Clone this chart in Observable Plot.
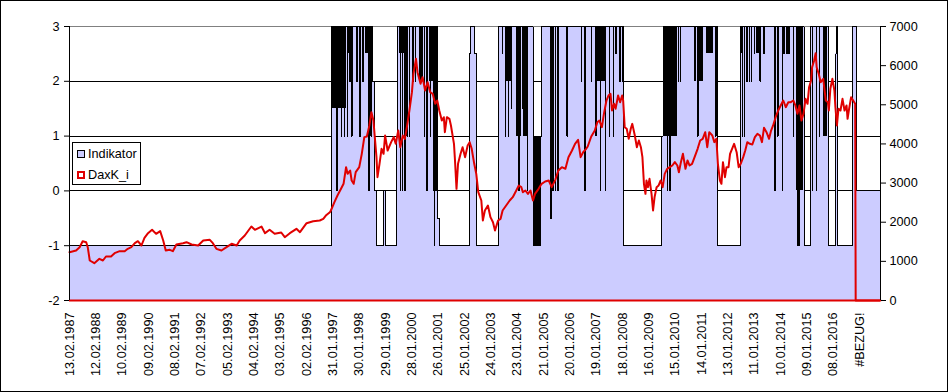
<!DOCTYPE html>
<html><head><meta charset="utf-8">
<script src="https://cdn.jsdelivr.net/npm/d3@7"></script>
<script src="https://cdn.jsdelivr.net/npm/@observablehq/plot@0.6"></script>
<style>
body{margin:0;background:#fff;}
#wrap{position:relative;width:948px;height:392px;overflow:hidden;font-family:"Liberation Sans",Arial,sans-serif;background:#fff;}
#chart{position:absolute;left:0;top:0;}
#frame{position:absolute;left:0;top:0;width:948px;height:392px;box-sizing:border-box;border:1px solid #000;pointer-events:none;}
#legend{position:absolute;left:72px;top:142px;width:69px;height:43px;box-sizing:border-box;border:1px solid #000;background:#fff;font-size:12.7px;color:#000;}
.sw{position:absolute;left:4px;width:8px;height:8px;box-sizing:border-box;}
.lt{position:absolute;left:15px;line-height:14px;}
</style></head>
<body><div id="wrap"><div id="chart"></div>
<div id="legend">
<div class="sw" style="top:7px;background:#ccccff;border:1px solid #000;"></div><div class="lt" style="top:4px;">Indikator</div>
<div class="sw" style="top:28px;background:#fff;border:2px solid #e00000;"></div><div class="lt" style="top:25px;">DaxK_i</div>
</div>
<div id="frame"></div></div>
<script>
// x axis tick labels (one every 52 weeks)
const tickLabels = ["13.02.1987","12.02.1988","10.02.1989","09.02.1990","08.02.1991","07.02.1992","05.02.1993","04.02.1994","03.02.1995","02.02.1996","31.01.1997","30.01.1998","29.01.1999","28.01.2000","26.01.2001","25.01.2002","24.01.2003","23.01.2004","21.01.2005","20.01.2006","19.01.2007","18.01.2008","16.01.2009","15.01.2010","14.01.2011","13.01.2012","11.01.2013","10.01.2014","09.01.2015","08.01.2016","#BEZUG!"];
const totalWeeks = 1601;

// DaxK_i (right axis), week index -> value
const daxWeek = [0,13,20,26,33,36,40,49,59,66,72,82,89,99,109,115,122,129,135,142,148,155,163,171,179,185,190,198,204,211,224,231,241,254,264,277,283,290,300,310,320,330,336,346,359,366,379,386,395,405,418,425,435,448,455,468,481,494,501,506,514,516,523,529,536,541,546,549,554,557,561,565,572,577,582,587,592,596,600,603,606,608,612,616,620,623,628,635,640,644,649,653,658,662,666,671,676,679,684,687,693,697,702,707,712,717,722,726,730,735,739,741,745,750,753,759,761,764,767,772,776,781,786,790,794,799,803,807,813,816,820,826,831,836,840,846,851,855,862,869,875,882,887,892,895,900,905,910,915,919,926,932,939,946,952,959,965,972,979,985,992,998,1004,1009,1014,1020,1023,1030,1037,1042,1046,1051,1055,1060,1064,1068,1071,1075,1078,1083,1087,1091,1093,1096,1100,1104,1108,1111,1116,1120,1124,1128,1131,1134,1137,1139,1142,1145,1149,1152,1155,1159,1163,1167,1171,1175,1180,1185,1190,1195,1200,1203,1207,1211,1216,1220,1224,1229,1234,1240,1245,1250,1255,1259,1263,1269,1273,1277,1280,1284,1287,1290,1294,1297,1301,1304,1308,1312,1317,1321,1325,1330,1334,1338,1343,1348,1353,1358,1363,1367,1371,1376,1381,1385,1389,1394,1399,1404,1409,1414,1419,1424,1429,1433,1437,1441,1445,1449,1453,1457,1460,1464,1466,1470,1473,1475,1479,1483,1488,1493,1497,1499,1502,1506,1510,1512,1515,1518,1522,1526,1530,1534,1536,1539,1543,1547,1551,1552,1601];
const daxValue = [1234,1277,1362,1515,1490,1362,1022,953,1064,1022,1124,1124,1209,1260,1260,1320,1362,1464,1515,1405,1601,1720,1806,1703,1771,1533,1277,1294,1260,1431,1464,1490,1431,1405,1533,1550,1464,1320,1277,1362,1448,1405,1533,1660,1890,1806,1890,1720,1806,1703,1737,1618,1720,1831,1746,1975,2026,2044,2086,2171,2256,2299,2512,2682,2853,2981,3406,3236,3321,3066,2981,3278,3406,3747,4173,4190,4471,4811,4598,4130,3662,3150,3492,3875,3747,4215,3832,4045,4173,4003,4343,3917,4215,4130,4428,4854,5322,5791,6175,5833,5536,5706,5365,5578,5322,5280,5025,5109,4854,4598,4683,4300,4683,4641,4471,4003,3577,2853,3492,3747,3917,3662,3960,4045,3875,3492,3236,2767,2555,2044,2299,2427,2129,2001,1788,2044,2086,2299,2427,2555,2640,2810,2938,2895,2767,2810,2725,2810,2555,2725,2853,2981,3040,3066,2895,3083,3321,3406,3364,3662,3832,4003,4105,3662,3789,3875,3934,4190,4343,4556,4598,4428,4769,5109,5237,5280,4854,5025,4897,5237,5066,5237,5109,4428,4386,4130,4386,4513,4215,3917,4088,3917,3662,2981,2725,3066,2895,3108,2725,2299,2640,2895,2938,3066,2895,3236,3364,3406,3449,3534,3449,3278,3534,3747,3364,3577,3449,3492,3662,3875,4088,4130,4300,3917,4300,4215,4045,4130,3492,3066,2981,3534,3150,3406,3406,3747,3875,4003,3789,3406,3492,3662,3832,4045,4003,3985,4173,4258,4215,4045,4411,4300,4130,4343,4471,4683,4854,4982,5109,4939,5066,5066,5109,4982,4769,4982,4598,4769,5152,5025,5450,5620,5960,6131,6318,5960,5791,5578,5663,5109,5066,4854,5408,5663,5365,4939,4471,4897,4854,5152,4854,4982,4641,4897,5194,5109,5025,0,0];

// Indikator (left axis): week where the level changes -> new level
const indWeek = [0,517,518,528,529,536,537,542,543,548,549,553,554,557,558,567,568,573,574,579,580,591,592,595,596,599,603,607,620,623,645,647,653,654,657,658,662,663,666,667,671,672,678,679,683,684,700,701,705,706,712,713,718,720,721,724,727,730,789,791,800,803,847,854,855,860,861,866,867,872,873,887,888,895,896,904,905,915,923,926,927,929,930,932,950,951,954,955,959,960,964,965,982,983,1010,1011,1017,1018,1030,1031,1048,1049,1058,1059,1066,1067,1073,1074,1078,1079,1086,1087,1091,1092,1094,1168,1172,1180,1181,1185,1186,1202,1203,1206,1207,1240,1241,1275,1276,1280,1325,1328,1329,1332,1333,1337,1338,1342,1343,1346,1347,1352,1353,1363,1364,1371,1372,1392,1393,1398,1399,1407,1408,1410,1411,1416,1417,1420,1421,1429,1430,1437,1438,1440,1441,1450,1463,1466,1467,1474,1475,1480,1481,1499,1513,1515,1517,1545,1553,1601];
const indLevel = [-1,1,3,0,3,1,3,1,3,1,3,2,3,1,3,2,3,1,3,2,3,0,3,1,3,2,0,-1,0,-1,1,3,0,3,0,3,0,3,1,3,1,3,2,3,2,3,1,3,0,3,1,3,0,-1,0,3,-0.5,-1,2.5,3,2.5,-1,3,2.5,3,1,3,1,3,1.5,3,0,3,1.5,3,0,3,-1,1,-1,1,-1,1,3,-0.5,3,0,3,0,3,0,3,1,3,2,3,0,3,2,3,0,3,0,3,1,3,1,3,2.5,3,2,3,2,3,-1,1,3,0,3,0,3,2,3,2,3,1,3,1,3,-1,3,1,3,1,3,2,3,2,3,2,3,2.5,3,2,3,2.5,3,0,3,1,3,0,3,2.5,3,2.5,3,2.5,3,1,3,-1,3,-1,3,-1,3,0,3,0,3,1,3,-1,2.5,3,-1,3,0,0];

// Stretches where the weekly Indikator flips so fast its outline is solid black
const denseFrom = [518,550,585,652,690,710,718,860,882,897,915,1038,1043,1175,1234,1244,1257,1275,1325,1356,1435,1488];
const denseTo   = [546,561,599,668,698,718,724,872,893,905,923,1042,1060,1201,1238,1251,1271,1280,1331,1366,1449,1497];
const denseLow  = [1.5,2.5,2.5,2.5,2,2,0,2,1,1,-1,1,2,1,2,2,2.5,1,2.5,2.5,0,1];
const denseHigh = [3,3,3,3,3,3,3,3,3,3,1,3,3,3,3,3,3,3,3,3,3,3];

const leftTicks = [-2,-1,0,1,2,3];
const rightTicks = [0,1000,2000,3000,4000,5000,6000,7000];

const toLeft = v => -2 + v / 1400; // right axis 0..7000 onto left axis -2..3

const dax = daxWeek.map((w,i)=>({w, v: daxValue[i]}));
const ind = indWeek.map((w,i)=>({w, v: indLevel[i]}));
const dense = denseFrom.map((w0,i)=>({w0, w1: denseTo[i], lo: denseLow[i], hi: denseHigh[i]}));
const labelWeeks = tickLabels.map((_,i)=>i*52);

const chart = Plot.plot({
  width: 948, height: 392,
  marginLeft: 69, marginRight: 68, marginTop: 26, marginBottom: 92,
  x: {domain: [0, totalWeeks], axis: null},
  y: {domain: [-2, 3], axis: null},
  style: {fontFamily: "'Liberation Sans', Arial, sans-serif", fontSize: "12.7px", color: "#000", background: "transparent", overflow: "visible"},
  marks: [
    Plot.ruleY([3], {stroke: "#808080", shapeRendering: "crispEdges"}),
    Plot.ruleY([-1,0,1,2], {stroke: "#000", shapeRendering: "crispEdges"}),
    Plot.areaY(ind, {x: "w", y1: () => -2, y2: "v", curve: "step-after", fill: "#ccccff", shapeRendering: "crispEdges"}),
    Plot.rect(dense, {x1: "w0", x2: "w1", y1: "lo", y2: "hi", fill: "#000", shapeRendering: "crispEdges"}),
    Plot.line(ind, {x: "w", y: "v", curve: "step-after", stroke: "#000", strokeWidth: 1, shapeRendering: "crispEdges"}),
    Plot.line(dax, {x: "w", y: d => toLeft(d.v), stroke: "#e00000", strokeWidth: 2}),
    Plot.ruleY([-2], {stroke: "#e00000", strokeWidth: 2}),
    Plot.ruleX([0, totalWeeks], {stroke: "#000", shapeRendering: "crispEdges"}),
    Plot.axisY(leftTicks, {anchor: "left", tickSize: 5, tickPadding: 5, tickFormat: d => String(d)}),
    Plot.axisY(rightTicks.map(toLeft), {anchor: "right", tickSize: 5, tickPadding: 4, tickFormat: d => String(Math.round((d + 2) * 1400))}),
    Plot.axisX(labelWeeks, {anchor: "bottom", tickSize: 0, tickPadding: 12, tickRotate: -90, tickFormat: d => tickLabels[Math.round(d / 52)]})
  ]
});
document.getElementById("chart").appendChild(chart);
</script>
</body></html>
